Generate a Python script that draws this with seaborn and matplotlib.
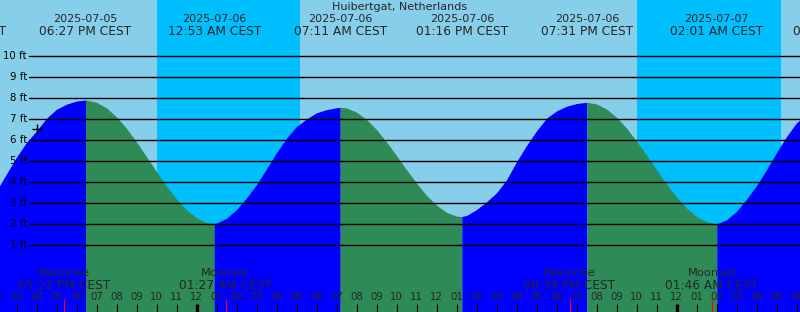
import matplotlib
matplotlib.use("Agg")
import matplotlib.pyplot as plt
import matplotlib.transforms as mtransforms
import seaborn as sns
import pandas as pd
import numpy as np

sns.set_style("white")
plt.rcParams['font.family'] = ['DejaVu Sans']

# ---------------- data ----------------
title = "Huibertgat, Netherlands"
ref_day = "2025-07-06 00:00"          # hours below are counted from here

# tide extremes (time, height ft)
extreme_times = ["2025-07-05 12:11", "2025-07-05 18:27", "2025-07-06 00:53",
                 "2025-07-06 07:11", "2025-07-06 13:16", "2025-07-06 19:31",
                 "2025-07-07 02:01", "2025-07-07 08:09"]
extreme_labels = ["12:11 PM CEST", "06:27 PM CEST", "12:53 AM CEST",
                  "07:11 AM CEST", "01:16 PM CEST", "07:31 PM CEST",
                  "02:01 AM CEST", "08:09 AM CEST"]
extreme_ft = [2.28, 7.92, 2.04, 7.57, 2.37, 7.81, 2.03, 7.88]

# tide height every half hour, from -12 h to +32 h of ref_day
halfhour_start, halfhour_step = -12.0, 0.5
halfhour_ft = [
    2.30, 2.35, 2.55, 2.95, 3.60, 4.40, 5.20, 5.90, 6.45, 7.05, 7.48, 7.72,   # -12 .. -6.5
    7.87, 7.92, 7.81, 7.54, 7.12, 6.57, 5.92, 5.22, 4.50, 3.82, 3.20, 2.69,   # -6 .. -0.5
    2.31, 2.09, 2.06, 2.29, 2.70, 3.26, 3.89, 4.64, 5.41, 6.10, 6.66, 7.02,   # 0 .. 5.5
    7.31, 7.46, 7.55, 7.54, 7.34, 6.99, 6.51, 5.92, 5.27, 4.60, 3.96, 3.38,   # 6 .. 11.5
    2.91, 2.57, 2.39, 2.42, 2.70, 3.07, 3.50, 4.12, 4.98, 5.75, 6.45, 7.05,   # 12 .. 17.5
    7.40, 7.62, 7.75, 7.81, 7.73, 7.49, 7.10, 6.58, 5.96, 5.29, 4.59, 3.92,   # 18 .. 23.5
    3.30, 2.77, 2.37, 2.12, 2.03, 2.21, 2.62, 3.20, 3.84, 4.60, 5.42, 6.18,   # 24 .. 29.5
    6.83, 7.24, 7.56, 7.73, 7.85,                                             # 30 .. 32
]

night_start = ["2025-07-05 22:02", "2025-07-06 22:01"]
night_end = ["2025-07-06 05:11", "2025-07-07 05:13"]

moon_times = ["2025-07-05 17:22", "2025-07-06 01:27", "2025-07-06 18:39", "2025-07-07 01:46"]
moon_names = ["Moonrise", "Moonset", "Moonrise", "Moonset"]
moon_labels = ["05:22 PM CEST", "01:27 AM CEST", "06:39 PM CEST", "01:46 AM CEST"]

now_time = "2025-07-05 16:01"
now_ft = 6.55

ft_levels = [1, 2, 3, 4, 5, 6, 7, 8, 9, 10]

# ---------------- helpers ----------------
t0 = pd.Timestamp(ref_day)
def hrs(s):
    return (pd.Timestamp(s) - t0) / pd.Timedelta(hours=1)

ext_h = [hrs(s) for s in extreme_times]
ext_dates = [pd.Timestamp(s).strftime("%Y-%m-%d") for s in extreme_times]
halfhour_h = [halfhour_start + i * halfhour_step for i in range(len(halfhour_ft))]

pts = pd.DataFrame({"h": halfhour_h + ext_h,
                    "ft": list(halfhour_ft) + extreme_ft}).sort_values("h")
pts = pts.drop_duplicates("h")

# ---------------- figure ----------------
W, H = 800, 312
fig = plt.figure(figsize=(W / 100, H / 100), dpi=100)
ax = fig.add_axes([0, 0, 1, 1])
x_lo, x_hi = -196.5 / 20, (W - 196.5) / 20
y_lo, y_hi = (266.3 - H) / 21, 266.3 / 21
ax.set_xlim(x_lo, x_hi)
ax.set_ylim(y_lo, y_hi)
ax.set_facecolor("#87CEEB")
for sp in ax.spines.values():
    sp.set_visible(False)
ax.set_xticks([])
ax.set_yticks([])

# night bands
for a, b in zip(night_start, night_end):
    ax.axvspan(hrs(a), hrs(b), color="#00BFFF", lw=0, zorder=1)

# tide fill: rising blue, falling green
for i in range(len(ext_h) - 1):
    a, b = ext_h[i], ext_h[i + 1]
    seg = pts[(pts.h >= a) & (pts.h <= b)]
    rising = extreme_ft[i + 1] > extreme_ft[i]
    col = "#0000FF" if rising else "#2E8B57"
    ax.fill_between(seg.h, seg.ft, y_lo, color=col, lw=0, zorder=2)

# grid lines and ft labels
trans_y = mtransforms.blended_transform_factory(ax.transAxes, ax.transData)
for lv in ft_levels:
    ax.axhline(lv, xmin=29 / W, xmax=1, color="black", lw=1.0, zorder=3)
    ax.text(27 / W, lv, f"{lv} ft", transform=trans_y, ha="right", va="center",
            fontsize=7.3, color="black", zorder=4)

# now marker
sns.scatterplot(x=[hrs(now_time)], y=[now_ft], marker="+", s=60, color="black",
                linewidth=1.0, ax=ax, zorder=5, legend=False)

trans_x = mtransforms.blended_transform_factory(ax.transData, ax.transAxes)

# title and extreme labels
ax.text(0.5, 1 - 7 / H, title, transform=ax.transAxes, ha="center", va="center",
        fontsize=8, zorder=6)
for h, d, lab in zip(ext_h, ext_dates, extreme_labels):
    ax.text(h, 1 - 19 / H, d, transform=trans_x, ha="center", va="center",
            fontsize=8, zorder=6)
    ax.text(h, 1 - 31.5 / H, lab, transform=trans_x, ha="center", va="center",
            fontsize=8.8, zorder=6)

# moon labels
for t, n, lab in zip(moon_times, moon_names, moon_labels):
    h = hrs(t)
    ax.text(h, 1 - 273.3 / H, n, transform=trans_x, ha="center", va="center",
            fontsize=8.2, zorder=6)
    ax.text(h, 1 - 285.7 / H, lab, transform=trans_x, ha="center", va="center",
            fontsize=8.8, zorder=6)
    ax.plot([h, h], [0, 13 / H], transform=trans_x, color="red", lw=0.8, zorder=6)

# hour ticks
for h in range(int(np.floor(x_lo)), int(np.ceil(x_hi)) + 1):
    hh = h % 12
    lab = f"{(hh if hh else 12):02d}"
    ax.text(h, 15 / H, lab, transform=trans_x, ha="center", va="center",
            fontsize=7.4, zorder=6)
    midnight = (h % 24 == 0)
    ax.plot([h, h], [0, 8.5 / H], transform=trans_x, color="black",
            lw=2.4 if midnight else 0.8, solid_capstyle="butt", zorder=6)

fig.savefig("out.png", dpi=100)
